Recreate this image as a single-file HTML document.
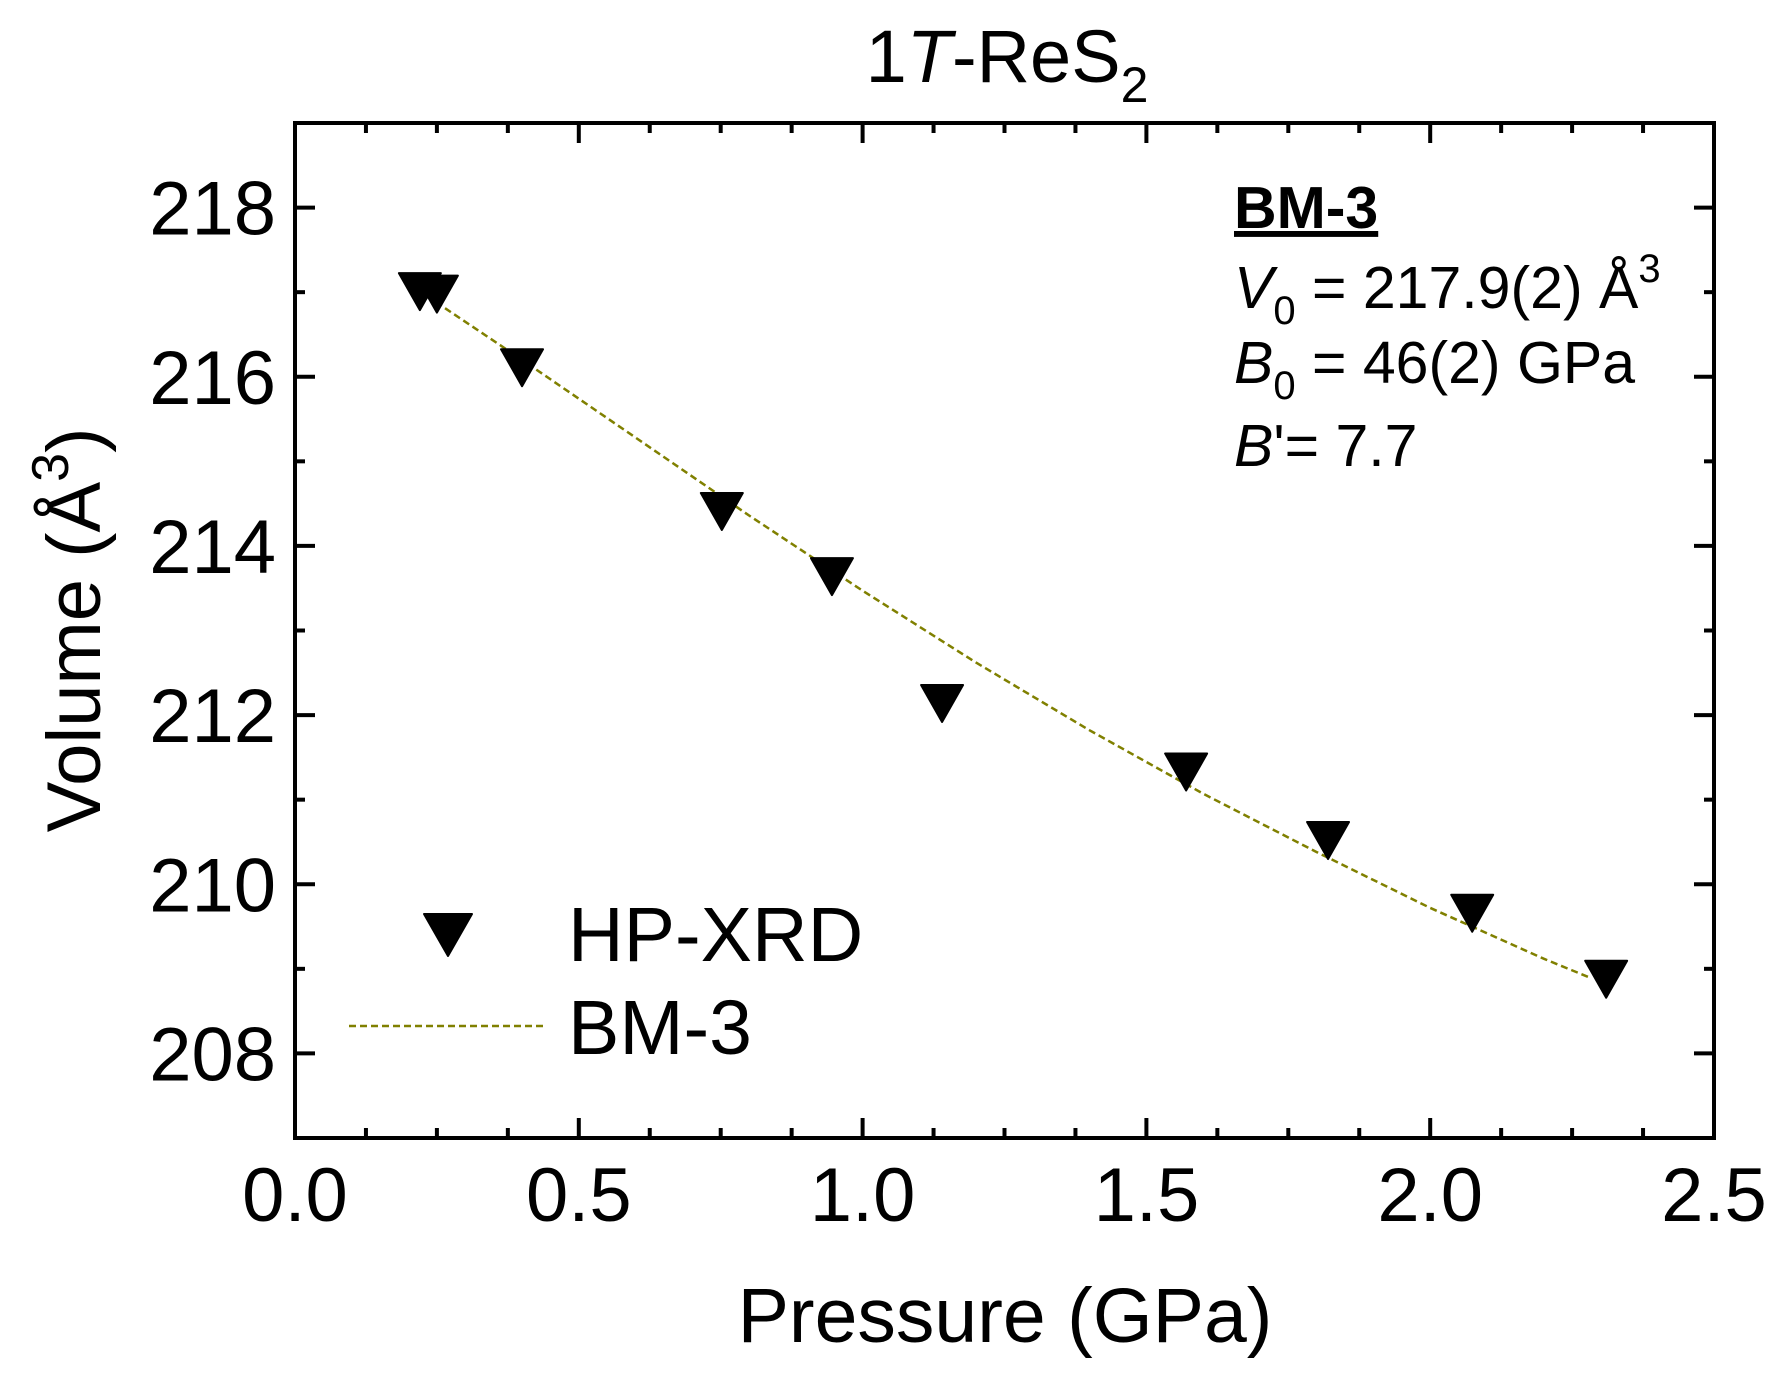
<!DOCTYPE html>
<html><head><meta charset="utf-8"><style>
html,body{margin:0;padding:0;background:#fff;}
svg{display:block;font-family:"Liberation Sans",Arial,sans-serif;}
</style></head><body>
<svg id="chart" width="1780" height="1374" viewBox="0 0 1780 1374" xmlns="http://www.w3.org/2000/svg">
<text x="1007" y="82" font-size="74" text-anchor="middle">1<tspan font-style="italic">T</tspan>-ReS<tspan font-size="50" dy="20">2</tspan></text>
<g id="axes"></g>
<g id="fit"></g>
<g id="pts"></g>
<text x="1005" y="1342" font-size="77" text-anchor="middle">Pressure (GPa)</text>
<text transform="translate(100,630) rotate(-90)" font-size="76" text-anchor="middle">Volume (Å<tspan font-size="52" dy="-32">3</tspan><tspan dy="32">)</tspan></text>
<g font-size="59">
<text x="1234" y="228" font-weight="bold" text-decoration="underline">BM-3</text>
<text x="1234" y="308"><tspan font-style="italic">V</tspan><tspan font-size="40" dy="16">0</tspan><tspan dy="-16"> = 217.9(2) Å</tspan><tspan font-size="40" dy="-26">3</tspan></text>
<text x="1234" y="383"><tspan font-style="italic">B</tspan><tspan font-size="40" dy="16">0</tspan><tspan dy="-16"> = 46(2) GPa</tspan></text>
<text x="1234" y="466"><tspan font-style="italic">B</tspan>'= 7.7</text>
</g>
<g font-size="77">
<path d="M424,914 L472,914 L448,956 Z" fill="#000" stroke="#000" stroke-width="2" stroke-linejoin="round"/>
<text x="568" y="961">HP-XRD</text>
<line x1="349" y1="1026" x2="547" y2="1026" stroke="#808000" stroke-width="2.5" stroke-dasharray="7,4"/>
<text x="568" y="1054">BM-3</text>
</g>
</svg>
<script>
const xTicks = [0.0, 0.5, 1.0, 1.5, 2.0, 2.5];
const xTickLabels = ["0.0", "0.5", "1.0", "1.5", "2.0", "2.5"];
const yTicks = [208, 210, 212, 214, 216, 218];
const yTickLabels = ["208", "210", "212", "214", "216", "218"];
const pressure = [0.22, 0.25, 0.40, 0.752, 0.946, 1.14, 1.57, 1.82, 2.074, 2.31];
const volume = [217.06, 217.03, 216.16, 214.46, 213.69, 212.19, 211.38, 210.57, 209.71, 208.93];
const fitPressure = [0.2, 0.4, 0.6, 0.8, 1.0, 1.2, 1.4, 1.6, 1.8, 2.0, 2.2, 2.28];
const fitVolume = [217.1, 216.2, 215.28, 214.36, 213.47, 212.62, 211.82, 211.07, 210.38, 209.72, 209.12, 208.9];

const NS = "http://www.w3.org/2000/svg";
const L = 295, R = 1714, T = 123, B = 1138;
const xmin = 0, xmax = 2.5, ymin = 207, ymax = 219;
function sx(v){ return L + (v - xmin) / (xmax - xmin) * (R - L); }
function sy(v){ return B - (v - ymin) / (ymax - ymin) * (B - T); }
function mk(tag, attrs, parent){ const e = document.createElementNS(NS, tag); for (const k in attrs) e.setAttribute(k, attrs[k]); parent.appendChild(e); return e; }

const axes = document.getElementById('axes');
const frame = mk('rect', {x: L, y: T, width: R - L, height: B - T, fill: 'none', stroke: '#000', 'stroke-width': 4}, axes);



for (let i = 0; i < xTicks.length; i++) {
  const x = sx(xTicks[i]);
  const t1 = mk('line', {x1: x, y1: B, x2: x, y2: B - 20, stroke: '#000', 'stroke-width': 4}, axes);
  
  
  const t2 = mk('line', {x1: x, y1: T, x2: x, y2: T + 20, stroke: '#000', 'stroke-width': 4}, axes);
  
  
  const lb = mk('text', {x: x, y: 1221, 'font-size': 76, 'text-anchor': 'middle'}, axes);
  lb.textContent = xTickLabels[i];
  
  
  if (i < xTicks.length - 1) {
    for (let j = 1; j < 4; j++) {
      const xm = sx(xTicks[i] + (xTicks[i+1] - xTicks[i]) * j / 4);
      const m1 = mk('line', {x1: xm, y1: B, x2: xm, y2: B - 10, stroke: '#000', 'stroke-width': 4}, axes);
      
      
      const m2 = mk('line', {x1: xm, y1: T, x2: xm, y2: T + 10, stroke: '#000', 'stroke-width': 4}, axes);
      
      
    }
  }
}
for (let i = 0; i < yTicks.length; i++) {
  const y = sy(yTicks[i]);
  const t1 = mk('line', {x1: L, y1: y, x2: L + 20, y2: y, stroke: '#000', 'stroke-width': 4}, axes);
  
  
  const t2 = mk('line', {x1: R, y1: y, x2: R - 20, y2: y, stroke: '#000', 'stroke-width': 4}, axes);
  
  
  const lb = mk('text', {x: 276, y: y + 27, 'font-size': 76, 'text-anchor': 'end'}, axes);
  lb.textContent = yTickLabels[i];
  
  
}
for (let v = ymin; v <= ymax; v += 2) {
  const y = sy(v);
  const m1 = mk('line', {x1: L, y1: y, x2: L + 10, y2: y, stroke: '#000', 'stroke-width': 4}, axes);
  
  
  const m2 = mk('line', {x1: R, y1: y, x2: R - 10, y2: y, stroke: '#000', 'stroke-width': 4}, axes);
  
  
}

const fitG = document.getElementById('fit');
const d = fitPressure.map((p, i) => (i ? 'L' : 'M') + sx(p).toFixed(1) + ',' + sy(fitVolume[i]).toFixed(1)).join(' ');
const fl = mk('path', {d: d, fill: 'none', stroke: '#808000', 'stroke-width': 2.5, 'stroke-dasharray': '7,4'}, fitG);



const ptsG = document.getElementById('pts');
for (let i = 0; i < pressure.length; i++) {
  const x = sx(pressure[i]), y = sy(volume[i]);
  const tri = mk('path', {d: `M${x-21},${y-14} L${x+21},${y-14} L${x},${y+23} Z`, fill: '#000', 'stroke-linejoin': 'round', stroke: '#000', 'stroke-width': 2}, ptsG);
  
  
}
</script>
</body></html>
